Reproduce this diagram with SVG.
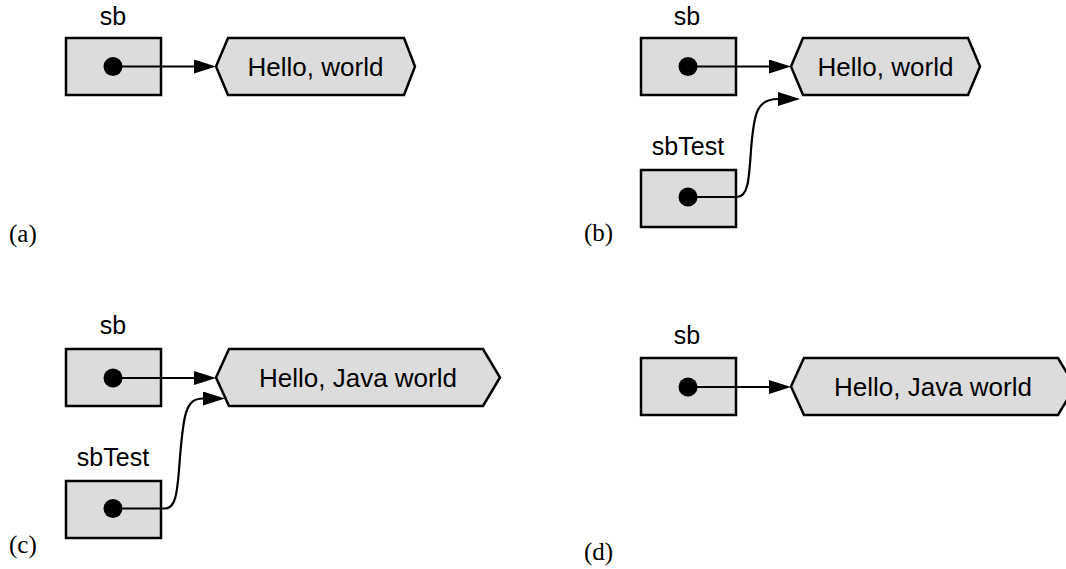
<svg xmlns="http://www.w3.org/2000/svg" width="1066" height="569" viewBox="0 0 1066 569">
<style>
.box{fill:#dcdcdc;stroke:#000;stroke-width:2.5}
.hex{fill:#dcdcdc;stroke:#000;stroke-width:2.5;stroke-linejoin:miter}
.dot{fill:#000}
.lbl{font-family:"Liberation Sans",Arial,sans-serif;font-size:25px;text-anchor:middle;fill:#000}
.val{font-family:"Liberation Sans",Arial,sans-serif;font-size:26px;text-anchor:middle;fill:#000}
.cap{font-family:"Liberation Serif","Times New Roman",serif;font-size:25px;fill:#000}
.con{fill:none;stroke:#000;stroke-width:2.2}
</style>
<defs>
<marker id="ah" markerUnits="userSpaceOnUse" markerWidth="23" markerHeight="15" refX="0" refY="7" orient="auto">
<path d="M0,0 L22,7 L0,14 z" fill="#000"/>
</marker>
</defs>
<rect width="1066" height="569" fill="#fff"/>

<g id="panel-a">
<g id="a-sb"><text class="lbl" x="113" y="25">sb</text><rect class="box" x="66" y="38" width="95" height="57"/><circle class="dot" cx="113" cy="66.5" r="9.5"/></g>
<g id="a-str"><polygon class="hex" points="216,66.5 228,38 404,38 415,66.5 404,95 228,95"/><text class="val" x="315.5" y="76">Hello, world</text></g>
<text class="cap" x="9" y="242">(a)</text>
</g>

<g id="panel-b">
<g id="b-sb"><text class="lbl" x="687" y="25">sb</text><rect class="box" x="641" y="38" width="95" height="57"/><circle class="dot" cx="688" cy="66.5" r="9.5"/></g>
<g id="b-sbTest"><text class="lbl" x="688" y="155">sbTest</text><rect class="box" x="641" y="170" width="95" height="57"/><circle class="dot" cx="688" cy="197" r="9.5"/></g>
<g id="b-str"><polygon class="hex" points="791,66.5 803,38 968,38 980,66.5 968,95 803,95"/><text class="val" x="885.5" y="76">Hello, world</text></g>
<text class="cap" x="584" y="241">(b)</text>
</g>

<g id="panel-c">
<g id="c-sb"><text class="lbl" x="113" y="334">sb</text><rect class="box" x="66" y="349" width="95" height="57"/><circle class="dot" cx="113" cy="378" r="9.5"/></g>
<g id="c-sbTest"><text class="lbl" x="113" y="466">sbTest</text><rect class="box" x="66" y="481" width="95" height="57"/><circle class="dot" cx="113" cy="508.5" r="9.5"/></g>
<g id="c-str"><polygon class="hex" points="216,377.5 229,349 483,349 500,377.5 483,406 229,406"/><text class="val" x="358" y="387">Hello, Java world</text></g>
<text class="cap" x="9" y="553">(c)</text>
</g>

<g id="panel-d">
<g id="d-sb"><text class="lbl" x="687" y="344">sb</text><rect class="box" x="641" y="358" width="95" height="57"/><circle class="dot" cx="688" cy="387" r="9.5"/></g>
<g id="d-str"><polygon class="hex" points="791,386.5 804,358 1058,358 1075,386.5 1058,415 804,415"/><text class="val" x="933" y="396">Hello, Java world</text></g>
<text class="cap" x="584" y="560">(d)</text>
</g>

<g id="connectors">
<path class="con" d="M113,66.5 L194,66.5" marker-end="url(#ah)"/>
<path class="con" d="M688,66.5 L769,66.5" marker-end="url(#ah)"/>
<path class="con" d="M688,197 L737,197 C748,197 749,180 751,150 C754,112 757,99 778,99" marker-end="url(#ah)"/>
<path class="con" d="M113,378 L194,378" marker-end="url(#ah)"/>
<path class="con" d="M113,508.5 L165,508.5 C175,508.5 177,495 179,470 C183,415 185,398.5 203,398.5" marker-end="url(#ah)"/>
<path class="con" d="M688,387 L769,387" marker-end="url(#ah)"/>
</g>
</svg>
